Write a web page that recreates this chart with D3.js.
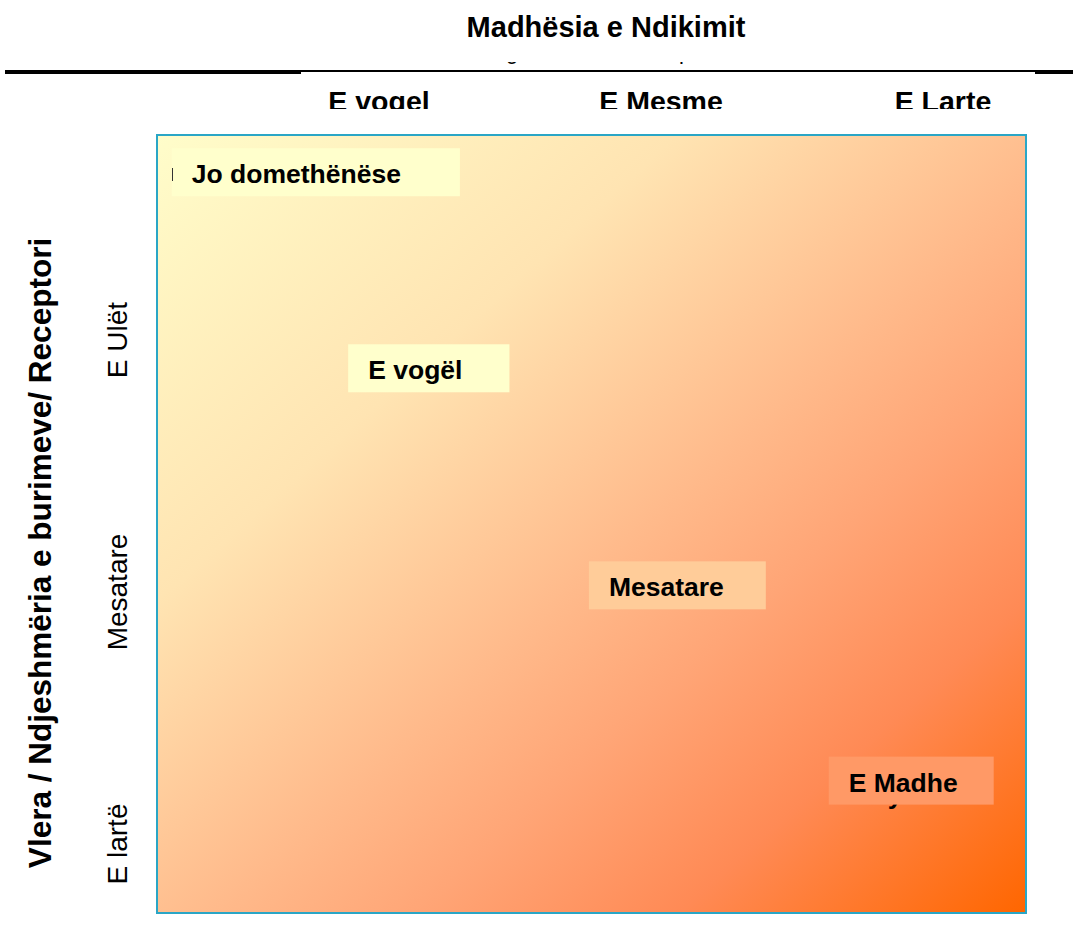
<!DOCTYPE html>
<html>
<head>
<meta charset="utf-8">
<script src="https://cdn.jsdelivr.net/npm/d3@7"></script>
<style>
  body { margin: 0; background: #fff; }
  text { font-family: "Liberation Sans", Arial, sans-serif; }
</style>
</head>
<body>
<div id="chart"></div>
<script>
var width = 1078;
var height = 932;

// column headers (impact magnitude) and row headers (sensitivity)
var columns = ["E vogel", "E Mesme", "E Larte"];
var rows = ["E Ulët", "Mesatare", "E lartë"];

// impact levels placed along the diagonal, 0-100 on each axis
var levels = ["Jo domethënëse", "E vogël", "Mesatare", "E Madhe"];
var levelImpact = [1.7, 22, 49.7, 77.3];
var levelSensitivity = [1.7, 26.9, 54.8, 79.9];

var box = {x: 157, y: 135, w: 869, h: 778};

var svg = d3.select("#chart")
  .append("svg")
  .attr("width", width)
  .attr("height", height);

var defs = svg.append("defs");

var grad = defs.append("linearGradient")
  .attr("id", "heat")
  .attr("x1", 0).attr("y1", 0)
  .attr("x2", 1).attr("y2", 1);
[[0, "#fffdca"], [0.3, "#ffe4b2"], [0.53, "#ffba8b"], [0.65, "#ffa576"], [0.8, "#ff8a55"], [1, "#ff6600"]]
  .forEach(function(s) {
    grad.append("stop").attr("offset", s[0]).attr("stop-color", s[1]);
  });

defs.append("clipPath").attr("id", "headClip")
  .append("rect").attr("x", 0).attr("y", 0).attr("width", width).attr("height", 109);
defs.append("clipPath").attr("id", "strayClip")
  .append("rect").attr("x", 0).attr("y", 62).attr("width", width).attr("height", 10);

// title
svg.append("text")
  .attr("x", 606)
  .attr("y", 37)
  .attr("text-anchor", "middle")
  .style("font-size", "29px")
  .style("font-weight", "bold")
  .text("Madhësia e Ndikimit");

// descenders of a hidden line of text
var stray = svg.append("g").attr("clip-path", "url(#strayClip)");
stray.append("text").attr("x", 512).attr("y", 59).attr("text-anchor", "middle")
  .style("font-size", "22px").text("g");
stray.append("text").attr("x", 685).attr("y", 59).attr("text-anchor", "middle")
  .style("font-size", "22px").text("p");

// rule under the title
svg.append("line")
  .attr("x1", 5).attr("x2", 1073)
  .attr("y1", 72).attr("y2", 72)
  .attr("stroke", "#000")
  .attr("stroke-width", 4);
svg.append("rect")
  .attr("x", 301).attr("y", 72)
  .attr("width", 734).attr("height", 3)
  .attr("fill", "#fff");

var x = d3.scalePoint()
  .domain(columns)
  .range([379, 943]);

var y = d3.scalePoint()
  .domain(rows)
  .range([340, 844]);

svg.append("g")
  .attr("clip-path", "url(#headClip)")
  .selectAll("text")
  .data(columns)
  .enter()
  .append("text")
    .attr("x", function(d) { return x(d); })
    .attr("y", 111)
    .attr("text-anchor", "middle")
    .style("font-size", "28.5px")
    .style("font-weight", "bold")
    .text(function(d) { return d; });

// matrix background
svg.append("rect")
  .attr("x", box.x).attr("y", box.y)
  .attr("width", box.w).attr("height", box.h)
  .attr("fill", "url(#heat)")
  .attr("stroke", "#2aa6c6")
  .attr("stroke-width", 2);

// row labels
svg.selectAll(".row")
  .data(rows)
  .enter()
  .append("text")
    .attr("class", "row")
    .attr("transform", function(d) { return "translate(127," + y(d) + ") rotate(-90)"; })
    .attr("text-anchor", "middle")
    .style("font-size", "28px")
    .text(function(d) { return d; });

// y axis title
svg.append("text")
  .attr("transform", "translate(51,553) rotate(-90)")
  .attr("text-anchor", "middle")
  .style("font-size", "31.5px")
  .style("font-weight", "bold")
  .text("Vlera / Ndjeshmëria e burimeve/ Receptori");

var px = d3.scaleLinear().domain([0, 100]).range([box.x, box.x + box.w]);
var py = d3.scaleLinear().domain([0, 100]).range([box.y, box.y + box.h]);

var fill = d3.scaleOrdinal()
  .domain(levels)
  .range(["#ffffcc", "#ffffcc", "#ffcc99", "#ff9966"]);

var extraPad = {"Jo domethënëse": 59, "E vogël": 47, "Mesatare": 42, "E Madhe": 36};

// hidden glyph peeking under the last label
svg.append("text")
  .attr("x", 895).attr("y", 804)
  .attr("text-anchor", "middle")
  .style("font-size", "26.5px")
  .style("font-weight", "bold")
  .text("y");

var lab = svg.selectAll(".level")
  .data(levels)
  .enter()
  .append("g")
    .attr("class", "level")
    .attr("transform", function(d, i) {
      return "translate(" + px(levelImpact[i]) + "," + py(levelSensitivity[i]) + ")";
    });

var bg = lab.append("rect")
  .attr("height", 48)
  .attr("fill", function(d) { return fill(d); });

var txt = lab.append("text")
  .attr("x", 20)
  .attr("y", 35)
  .style("font-size", "26.5px")
  .style("font-weight", "bold")
  .text(function(d) { return d; });

txt.each(function(d, i) {
  var w = this.getComputedTextLength();
  d3.select(bg.nodes()[i]).attr("width", w + 20 + extraPad[d]);
});

// stray cursor mark in the first label
svg.append("line")
  .attr("x1", 172.5).attr("x2", 172.5)
  .attr("y1", 168).attr("y2", 181)
  .attr("stroke", "#333")
  .attr("stroke-width", 1);
</script>
</body>
</html>
